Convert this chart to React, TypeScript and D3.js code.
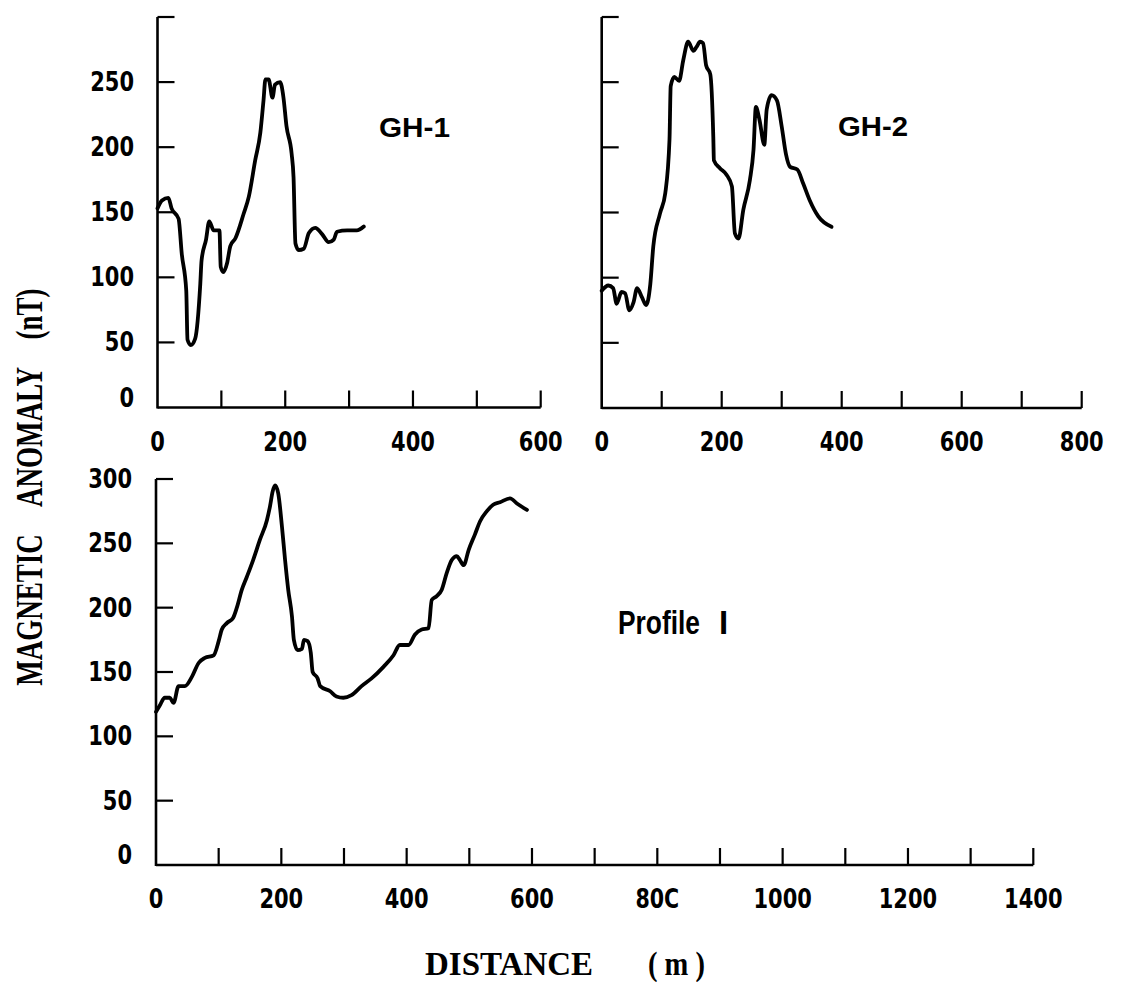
import React from "react";
import * as d3 from "d3";

// values (distance in m, anomaly in nT)
const gh1Dist = [0, 7, 17, 22, 33, 38, 45, 47, 52, 59, 67, 69, 76, 81, 88, 97, 99, 103, 109, 114, 122, 135, 143, 153, 161, 166, 169, 174, 180, 184, 192, 197, 202, 210, 213, 216, 221, 229, 237, 247, 258, 268, 276, 281, 297, 312, 323];
const gh1Nt = [153, 159, 161, 153, 145, 118, 90, 52, 48, 53, 95, 113, 129, 143, 136, 136, 108, 104, 111, 124, 130, 149, 162, 190, 211, 236, 252, 252, 238, 248, 250, 239, 216, 195, 177, 126, 121, 122, 134, 138, 133, 127, 129, 135, 136, 136, 139];

const gh2Dist = [0, 11, 19, 25, 33, 39, 46, 53, 59, 67, 74, 81, 86, 97, 106, 113, 115, 121, 129, 136, 144, 153, 158, 164, 169, 174, 181, 186, 187, 197, 208, 217, 222, 228, 236, 247, 253, 257, 263, 271, 275, 283, 292, 300, 307, 314, 326, 336, 347, 361, 383];
const gh2Nt = [90, 94, 92, 80, 89, 88, 75, 81, 92, 85, 79, 95, 124, 149, 165, 206, 247, 254, 251, 267, 281, 274, 277, 281, 280, 263, 256, 208, 190, 184, 179, 170, 134, 130, 152, 175, 198, 231, 221, 202, 229, 240, 236, 216, 195, 185, 183, 172, 159, 147, 139];

const profDist = [0, 6, 14, 22, 28, 36, 46, 57, 68, 78, 92, 100, 105, 113, 123, 129, 137, 145, 155, 166, 177, 182, 186, 190, 195, 201, 206, 211, 217, 220, 226, 233, 236, 242, 247, 250, 258, 262, 278, 288, 299, 312, 328, 344, 363, 379, 389, 403, 413, 424, 435, 440, 448, 456, 464, 472, 480, 485, 491, 499, 509, 517, 528, 538, 549, 565, 576, 592];
const profNt = [119, 124, 130, 130, 126, 139, 139, 146, 157, 161, 163, 174, 183, 188, 192, 200, 214, 224, 237, 253, 268, 279, 290, 295, 289, 263, 237, 214, 193, 175, 167, 168, 175, 174, 165, 150, 145, 139, 135, 131, 130, 132, 139, 145, 154, 163, 171, 171, 179, 183, 184, 206, 209, 214, 227, 237, 240, 237, 233, 245, 257, 267, 275, 280, 282, 285, 281, 276];

const yTicks = [50, 100, 150, 200, 250, 300];
const ghYLabels = [0, 50, 100, 150, 200, 250];
const profYLabels = [0, 50, 100, 150, 200, 250, 300];
const gh1XLabels = ["0", "200", "400", "600"];
const gh2XLabels = ["0", "200", "400", "600", "800"];
const profXLabels = ["0", "200", "400", "600", "80C", "1000", "1200", "1400"];

const tickFont = "'DejaVu Sans Condensed', 'DejaVu Sans', sans-serif";

function TickText({ x, y, anchor, s }) {
  return (
    <text x={x} y={y} textAnchor={anchor} fontFamily={tickFont} fontStretch="condensed"
      fontWeight="bold" fontSize={26} textLength={s.length * 14.6} lengthAdjust="spacingAndGlyphs">{s}</text>
  );
}

function Panel({ dist, nt, xMax, xr, yr, xLabels, yLabels, labelRight }) {
  const x = d3.scaleLinear().domain([0, xMax]).range(xr);
  const y = d3.scaleLinear().domain([0, 300]).range(yr);
  const line = d3.line().x(d => x(d[0])).y(d => y(d[1])).curve(d3.curveMonotoneX);
  const pts = dist.map((d, i) => [d, nt[i]]);
  const xTicks = d3.range(100, xMax + 1, 100);
  const tl = 17;
  return (
    <g>
      <line x1={x(0)} x2={x(xMax)} y1={y(0)} y2={y(0)} stroke="#000" strokeWidth={2.6} />
      <line x1={x(0)} x2={x(0)} y1={y(0) + 1} y2={y(300)} stroke="#000" strokeWidth={2.6} />
      {xTicks.map(t => (
        <line key={"xt" + t} x1={x(t)} x2={x(t)} y1={y(0)} y2={y(0) - tl} stroke="#000" strokeWidth={2.2} />
      ))}
      {yTicks.map(t => (
        <line key={"yt" + t} x1={x(0)} x2={x(0) + tl} y1={y(t)} y2={y(t)} stroke="#000" strokeWidth={2.2} />
      ))}
      {xLabels.map((s, i) => (
        <TickText key={"xl" + i} x={x(i * 200)} y={y(0) + 43} anchor="middle" s={s} />
      ))}
      {yLabels.map(v => (
        <TickText key={"yl" + v} x={labelRight} y={y(v) + 9 - (v === 0 ? 10 : 0)} anchor="end" s={String(v)} />
      ))}
      <path d={line(pts)} fill="none" stroke="#000" strokeWidth={3.8} strokeLinejoin="round" strokeLinecap="round" />
    </g>
  );
}

export default function App() {
  return (
    <svg width={1131} height={982} style={{ position: "absolute", left: 0, top: 0, background: "#fff" }}>
      <rect width={1131} height={982} fill="#fff" />
      <Panel dist={gh1Dist} nt={gh1Nt} xMax={600} xr={[157.5, 540.7]} yr={[407.5, 17]}
        xLabels={gh1XLabels} yLabels={ghYLabels} labelRight={134} />
      <Panel dist={gh2Dist} nt={gh2Nt} xMax={800} xr={[601.7, 1081.7]} yr={[408, 17]}
        xLabels={gh2XLabels} yLabels={[]} labelRight={0} />
      <Panel dist={profDist} nt={profNt} xMax={1400} xr={[156, 1033.3]} yr={[865, 479]}
        xLabels={profXLabels} yLabels={profYLabels} labelRight={132} />

      <text x={379} y={137} fontFamily="'Liberation Sans', Arial, sans-serif" fontWeight="bold"
        fontSize={27} textLength={71} lengthAdjust="spacingAndGlyphs">GH-1</text>
      <text x={838} y={136} fontFamily="'Liberation Sans', Arial, sans-serif" fontWeight="bold"
        fontSize={27} textLength={70} lengthAdjust="spacingAndGlyphs">GH-2</text>
      <text x={618} y={634} fontFamily="'Liberation Sans', Arial, sans-serif" fontWeight="bold"
        fontSize={33} textLength={82} lengthAdjust="spacingAndGlyphs">Profile</text>
      <text x={719} y={634} fontFamily="'Liberation Sans', Arial, sans-serif" fontWeight="bold"
        fontSize={33}>I</text>

      <g fontFamily="'Liberation Serif', 'Times New Roman', serif" fontWeight="bold" fontSize={37}>
        <text transform="translate(42,610) rotate(-90) scale(0.73,1)" textAnchor="middle">MAGNETIC</text>
        <text transform="translate(42,437) rotate(-90) scale(0.73,1)" textAnchor="middle">ANOMALY</text>
        <text transform="translate(42,314) rotate(-90) scale(0.73,1)" textAnchor="middle">(nT)</text>
      </g>
      <g fontFamily="'Liberation Serif', 'Times New Roman', serif" fontWeight="bold" fontSize={33}>
        <text x={425} y={975}>DISTANCE</text>
        <text x={648} y={975} textLength={57} lengthAdjust="spacingAndGlyphs">( m )</text>
      </g>
    </svg>
  );
}
